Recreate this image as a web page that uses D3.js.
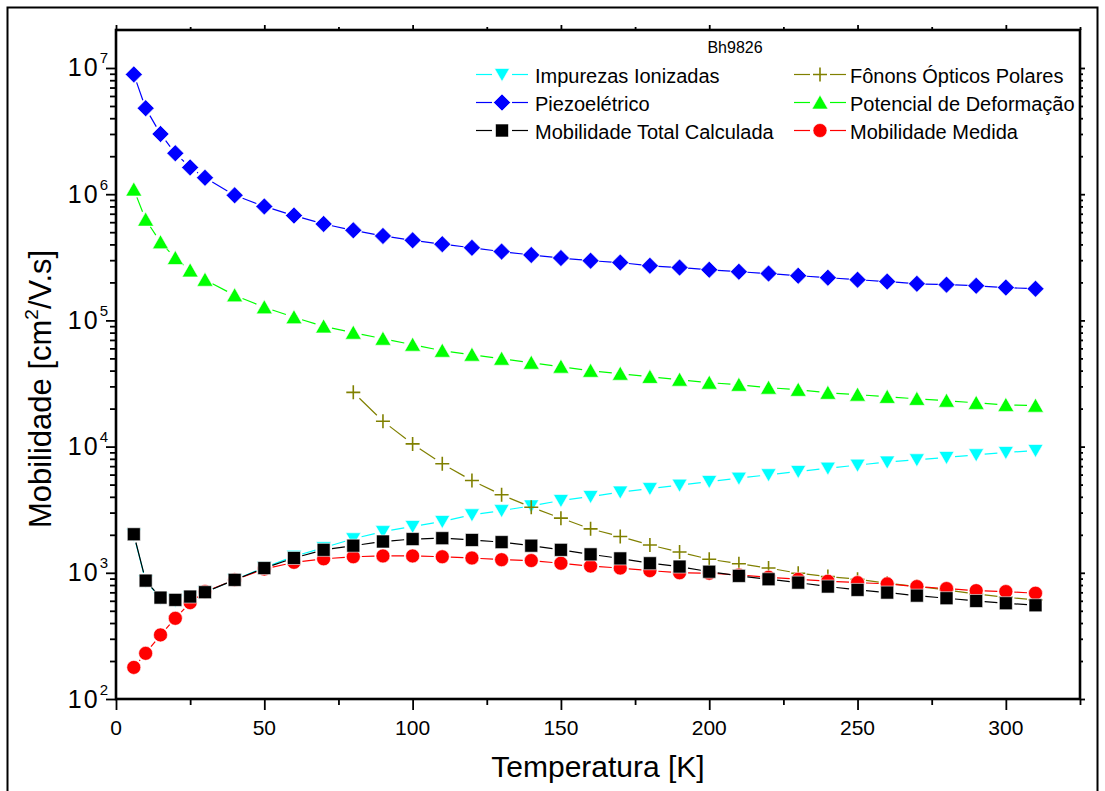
<!DOCTYPE html>
<html><head><meta charset="utf-8">
<script src="https://cdn.jsdelivr.net/npm/d3@7"></script>
<style>
body{margin:0;background:#fff}
svg{display:block}
text{font-family:"Liberation Sans",Arial,Helvetica,sans-serif;fill:#000}
</style>
</head><body>
<svg id="chart" width="1105" height="791"></svg>
<script>
// ---------------- data ----------------
const temps = [6,10,15,20,25,30,40,50,60,70,80,90,100,110,120,130,140,150,160,170,180,190,200,210,220,230,240,250,260,270,280,290,300,310];
const impurezas = [2000,860,630,600,640,700,880,1100,1350,1580,1860,2120,2330,2550,2880,3110,3390,3740,4020,4360,4650,4950,5290,5620,5980,6350,6750,7130,7540,7860,8200,8610,8980,9310];
const fononsTemps = [80,90,100,110,120,130,140,150,160,170,180,190,200,210,220,230,240,250,260,270,280,290,300,310];
const fonons = [26900,15900,10500,7310,5380,4150,3310,2710,2230,1940,1660,1460,1280,1180,1090,993,933,890,827,778,732,680,640,610];
const piezo = [8.9e6,4.8e6,3.0e6,2.11e6,1.63e6,1.35e6,9.8e5,8.0e5,6.77e5,5.81e5,5.17e5,4.67e5,4.31e5,4.02e5,3.76e5,3.51e5,3.30e5,3.12e5,2.97e5,2.87e5,2.71e5,2.62e5,2.52e5,2.43e5,2.35e5,2.26e5,2.18e5,2.10e5,2.03e5,1.95e5,1.92e5,1.88e5,1.82e5,1.78e5];
const deformacao = [1.09e6,6.29e5,4.16e5,3.12e5,2.49e5,2.10e5,1.58e5,1.27e5,1.06e5,8.96e4,7.99e4,7.16e4,6.42e4,5.75e4,5.35e4,4.97e4,4.62e4,4.30e4,3.99e4,3.78e4,3.57e4,3.39e4,3.21e4,3.09e4,2.93e4,2.82e4,2.67e4,2.58e4,2.48e4,2.39e4,2.31e4,2.22e4,2.14e4,2.11e4];
const totalCalc = [2020,867,636,610,648,702,879,1090,1310,1520,1640,1770,1850,1880,1820,1750,1640,1520,1400,1300,1190,1120,1020,945,889,836,778,732,697,659,629,598,574,553];
const medida = [178,230,322,436,580,710,879,1070,1210,1290,1340,1360,1360,1340,1310,1270,1250,1190,1130,1090,1040,1000,993,960,922,889,858,836,817,778,750,722,710,689];

const xTickValues = [0,50,100,150,200,250,300];
const yTickExponents = [2,3,4,5,6,7];
const legendTitle = "Bh9826";
const labelImpurezas = "Impurezas Ionizadas";
const labelFonons = "Fônons Ópticos Polares";
const labelPiezo = "Piezoelétrico";
const labelDeformacao = "Potencial de Deformação";
const labelTotal = "Mobilidade Total Calculada";
const labelMedida = "Mobilidade Medida";
const xTitle = "Temperatura [K]";

// ---------------- layout ----------------
const svg = d3.select("#chart");
const L = 116, R = 1080, T = 30, B = 699;
const x = d3.scaleLinear().domain([0, 325]).range([L, R]);
const y = d3.scaleLog().domain([100, 2e7]).range([B, T]);

const shapes = {
  triDown: "M-7.5,-6L7.5,-6L0,7Z",
  triUp: "M0,-7.5L8,6.5L-8,6.5Z",
  diamond: "M0,-8.5L8.5,0L0,8.5L-8.5,0Z",
  square: "M-6.5,-6.5H6.5V6.5H-6.5Z",
  circle: d3.symbol(d3.symbolCircle, 154)(),
  plus: "M-7,0H7M0,-7V7"
};
const GAP = 8.5;

function drawMarker(g, shape, color) {
  const p = g.append("path").attr("d", shapes[shape]);
  if (shape === "plus") p.attr("fill", "none").attr("stroke", color).attr("stroke-width", 1.6);
  else p.attr("fill", color).attr("stroke", "#fff").attr("stroke-width", 0.6);
  return p;
}

const series = [
  {name: labelDeformacao, t: temps, v: deformacao, color: "#00ff00", shape: "triUp"},
  {name: labelPiezo, t: temps, v: piezo, color: "#0000ff", shape: "diamond"},
  {name: labelImpurezas, t: temps, v: impurezas, color: "#00ffff", shape: "triDown"},
  {name: labelFonons, t: fononsTemps, v: fonons, color: "#808000", shape: "plus"},
  {name: labelMedida, t: temps, v: medida, color: "#ff0000", shape: "circle"},
  {name: labelTotal, t: temps, v: totalCalc, color: "#000000", shape: "square"}
];

// outer frame
svg.append("rect").attr("x", 7.5).attr("y", 7.5).attr("width", 1090).attr("height", 800)
  .attr("fill", "none").attr("stroke", "#000").attr("stroke-width", 2);

// ---------------- axes ----------------
const yMinor = [];
for (let e = 2; e <= 6; e++) for (let k = 2; k <= 9; k++) yMinor.push(k * Math.pow(10, e));
const yMajor = yTickExponents.map(e => Math.pow(10, e));
const xMinor = d3.range(25, 326, 50);

function styleAxis(g) {
  g.select(".domain").remove();
  g.selectAll(".tick line").attr("stroke", "#000").attr("stroke-width", 1.8);
}

svg.append("g").attr("transform", `translate(0,${B})`)
  .call(d3.axisBottom(x).tickValues(xTickValues).tickSize(11).tickFormat(""))
  .call(styleAxis);
svg.append("g").attr("transform", `translate(0,${B})`)
  .call(d3.axisBottom(x).tickValues(xMinor).tickSize(6).tickFormat(""))
  .call(styleAxis);
svg.append("g").attr("transform", `translate(0,${T})`)
  .call(d3.axisTop(x).tickValues(xTickValues).tickSize(5).tickFormat(""))
  .call(styleAxis);
svg.append("g").attr("transform", `translate(0,${T})`)
  .call(d3.axisTop(x).tickValues(xMinor).tickSize(3).tickFormat(""))
  .call(styleAxis);

svg.append("g").attr("transform", `translate(${L},0)`)
  .call(d3.axisLeft(y).tickValues(yMajor).tickSize(10).tickFormat(""))
  .call(styleAxis);
svg.append("g").attr("transform", `translate(${L},0)`)
  .call(d3.axisLeft(y).tickValues(yMinor).tickSize(6).tickFormat(""))
  .call(styleAxis);
svg.append("g").attr("transform", `translate(${R},0)`)
  .call(d3.axisRight(y).tickValues(yMajor).tickSize(5).tickFormat(""))
  .call(styleAxis);
svg.append("g").attr("transform", `translate(${R},0)`)
  .call(d3.axisRight(y).tickValues(yMinor).tickSize(3).tickFormat(""))
  .call(styleAxis);

// x tick labels
svg.append("g").selectAll("text").data(xTickValues).join("text")
  .attr("x", d => x(d)).attr("y", B + 36)
  .attr("text-anchor", "middle").attr("font-size", 21)
  .text(d => d);

// y tick labels (10^n)
const yl = svg.append("g").selectAll("text").data(yTickExponents).join("text")
  .attr("x", 108).attr("y", d => y(Math.pow(10, d)) + 8.5)
  .attr("text-anchor", "end").attr("font-size", 25);
yl.append("tspan").attr("letter-spacing", 2).text("10");
yl.append("tspan").attr("font-size", 15).attr("dy", -13).attr("letter-spacing", 0).text(d => d);

// plot frame
svg.append("rect").attr("x", L).attr("y", T).attr("width", R - L).attr("height", B - T)
  .attr("fill", "none").attr("stroke", "#000").attr("stroke-width", 2.6);

// axis titles
svg.append("text").attr("x", 598).attr("y", 777).attr("text-anchor", "middle")
  .attr("font-size", 30).text(xTitle);
const yt = svg.append("text").attr("transform", "translate(51,389) rotate(-90)")
  .attr("text-anchor", "middle").attr("font-size", 31);
yt.append("tspan").text("Mobilidade [cm");
yt.append("tspan").attr("font-size", 19).attr("dy", -13).text("2");
yt.append("tspan").attr("dy", 13).text("/V.s]");

// ---------------- series ----------------
function gappedPath(pts) {
  let d = "";
  for (let i = 0; i < pts.length - 1; i++) {
    const x0 = x(pts[i].t), y0 = y(pts[i].v), x1 = x(pts[i + 1].t), y1 = y(pts[i + 1].v);
    const dx = x1 - x0, dy = y1 - y0, len = Math.hypot(dx, dy);
    if (len <= 2 * GAP + 1) continue;
    const ux = dx / len, uy = dy / len;
    d += `M${x0 + ux * GAP},${y0 + uy * GAP}L${x1 - ux * GAP},${y1 - uy * GAP}`;
  }
  return d;
}

series.forEach(s => {
  const pts = s.t.map((t, i) => ({t, v: s.v[i]}));
  const g = svg.append("g");
  g.append("path").attr("d", gappedPath(pts))
    .attr("fill", "none").attr("stroke", s.color).attr("stroke-width", 1.2);
  g.selectAll("g.m").data(pts).join("g").attr("class", "m")
    .attr("transform", d => `translate(${x(d.t)},${y(d.v)})`)
    .each(function () { drawMarker(d3.select(this), s.shape, s.color); });
});

// ---------------- legend ----------------
svg.append("text").attr("x", 735).attr("y", 53).attr("text-anchor", "middle")
  .attr("font-size", 16).text(legendTitle);
const legendItems = [
  {s: series[2], col: 0, row: 0},
  {s: series[3], col: 1, row: 0},
  {s: series[1], col: 0, row: 1},
  {s: series[0], col: 1, row: 1},
  {s: series[5], col: 0, row: 2},
  {s: series[4], col: 1, row: 2}
];
const colSym = [502, 820], colText = [535, 850];
const rowY = [74.5, 102.5, 130.5];
legendItems.forEach(it => {
  const cx = colSym[it.col], cy = rowY[it.row];
  [[-26, -10], [10, 26]].forEach(([a, b]) =>
    svg.append("line").attr("x1", cx + a).attr("x2", cx + b).attr("y1", cy).attr("y2", cy)
      .attr("stroke", it.s.color).attr("stroke-width", 1.2));
  const mg = svg.append("g").attr("transform", `translate(${cx},${cy})`);
  drawMarker(mg, it.s.shape, it.s.color);
  svg.append("text").attr("x", colText[it.col]).attr("y", cy + 8)
    .attr("font-size", 20).text(it.s.name);
});
</script>
</body></html>
